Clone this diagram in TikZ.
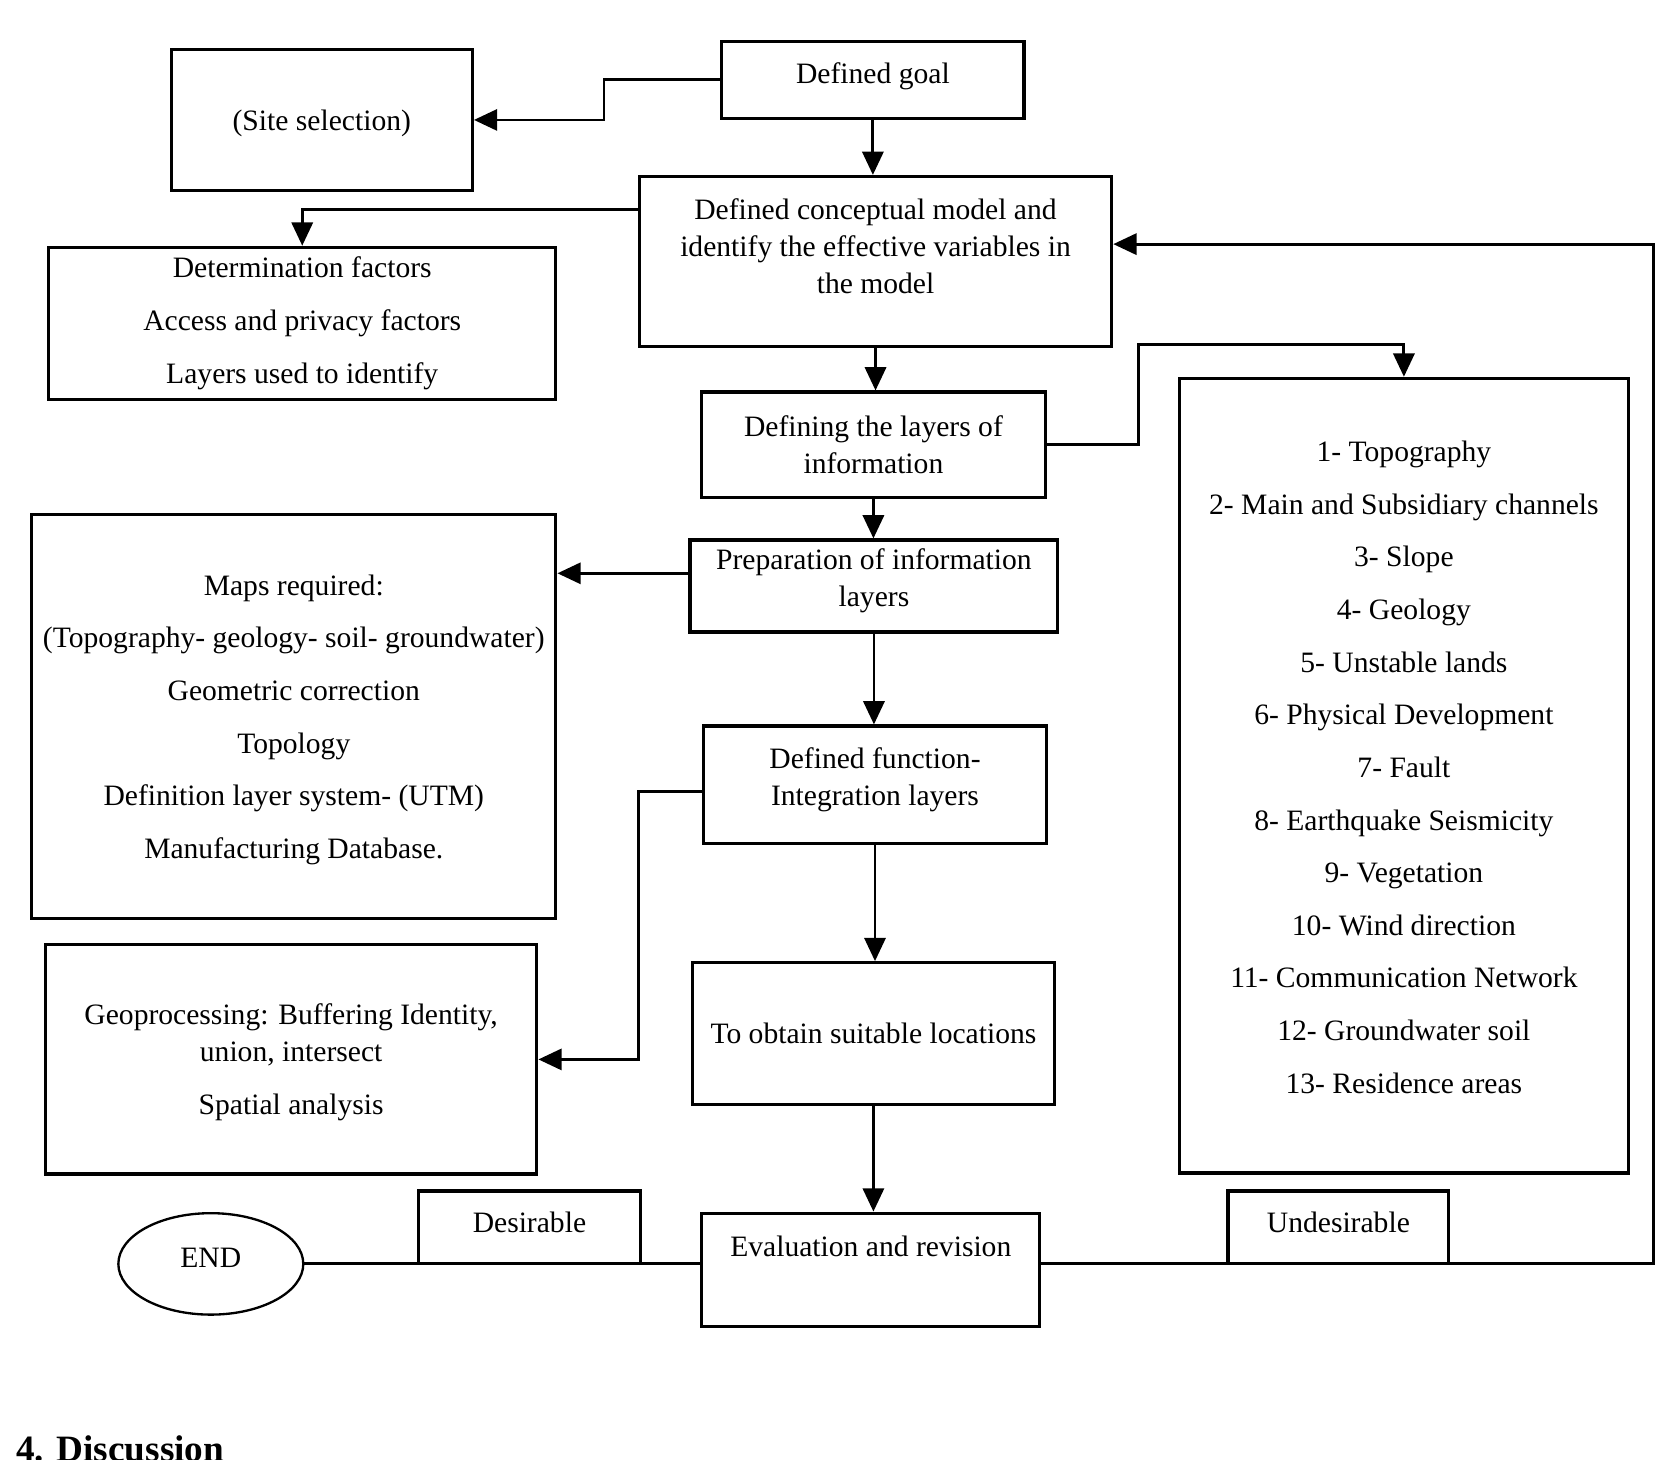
\documentclass[tikz,border=0pt]{standalone}
\usepackage{fontspec}
\setmainfont{Liberation Serif}
\usetikzlibrary{arrows.meta, shapes.geometric}

\begin{document}
\begin{tikzpicture}[> = {Triangle[length=11pt, width=10pt]}, % arrow head style
                x = 0.5pt, y = -0.5pt, % one unit is one pixel, y goes down
                line width = 1.35pt % line style
            ]

            \tikzstyle{every node}=[draw = black, rectangle, inner sep = 0pt,
            line width = 1.5pt, align = center,
            font = \fontsize{14}{17.5}\selectfont]
            \tikzstyle{listbox}=[font = \fontsize{14}{24.9}\selectfont]

            \useasboundingbox (0,0) rectangle (1568,1381);

            % middle column
            \node (1) at (826,75.5) [minimum width=143pt, minimum height=36.5pt,
            text depth=6pt] {Defined goal};
            \node (3) at (828.5,247.5) [minimum width=223.5pt, minimum height=80.5pt,
            text depth=14.5pt] {Defined conceptual model and\\ identify the
            effective variables in\\ the model};
            \node (5) at (826.5,421) [minimum width=162.5pt, minimum height=50pt]
            {Defining the layers of\\ information};
            \node (7) at (827,554.5) [minimum width=174pt, minimum height=43.5pt,
            text depth=8pt] {Preparation of information\\ layers};
            \node (9) at (828,742.5) [minimum width=162pt, minimum height=55.5pt,
            text depth=8pt] {Defined function-\\ Integration layers};
            \node (11) at (826.5,978) [minimum width=171.5pt, minimum height=67pt]
            {To obtain suitable locations};
            \node (12) at (824,1201.5) [minimum width=160pt, minimum height=53.5pt,
            text depth=22.5pt] {Evaluation and revision};

            % left column
            \node (2) at (304.5,113.5) [minimum width=142.5pt, minimum height=66.5pt,
            text depth=-4pt] {(Site selection)};
            \node (4) at (286,306) [listbox, minimum width=240pt, minimum height=72pt]
            {Determination factors\\ Access and privacy factors\\ Layers used to
            identify};
            \node (8) at (278,678) [listbox, minimum width=248pt, minimum height=191pt,
            text depth=-2pt] {Maps required:\\ (Topography- geology- soil-
            groundwater)\\ Geometric correction\\ Topology\\ Definition layer system-
            (UTM)\\ Manufacturing Database.};
            \node (10) at (275.5,1002.5) [minimum width=232.5pt, minimum height=108.5pt,
            text depth=-4pt] {Geoprocessing: Buffering Identity,\\ union,
            intersect\\[7.5pt] Spatial analysis};

            % right column
            \node (6) at (1328.5,734) [listbox, minimum width=212.5pt, minimum height=376pt,
            text depth=8pt] {1- Topography\\ 2- Main and Subsidiary channels\\ 3-
            Slope\\ 4- Geology\\ 5- Unstable lands\\ 6- Physical Development\\ 7-
            Fault\\ 8- Earthquake Seismicity\\ 9- Vegetation\\ 10- Wind direction\\
            11- Communication Network\\ 12- Groundwater soil\\ 13- Residence areas};

            % bottom row
            \node (13) at (501,1161.5) [minimum width=105pt, minimum height=34.5pt,
            text depth=4.5pt] {Desirable};
            \node (14) at (1266.5,1161.5) [minimum width=104.5pt, minimum height=34.5pt,
            text depth=4.5pt] {Undesirable};
            \node (15) at (199.5,1196) [ellipse, line width=1.1pt, minimum width=87.5pt,
            minimum height=48pt, text depth=6pt] {END};

            \node (16) at (14,1383) [draw=none, anchor=base west,
            font=\bfseries\fontsize{17.6}{20}\selectfont] {4. Discussion};

            % bend points
            \coordinate (a) at ([yshift=24.75pt]3.west);
            \coordinate (b) at (1077,326);
            \coordinate (c) at ([yshift=6pt]7.west);
            \coordinate (d) at ([yshift=-3.25pt]9.west);
            \coordinate (e) at ([yshift=2.75pt]12.west);
            \coordinate (f) at ([yshift=2.75pt]12.east);
            \coordinate (g) at ([yshift=8.25pt]3.east);

            \path[->] (1) edge (1 |- 3.north); \path[->] (3) edge (3.south |- 5.north);
            \path[->] (5) edge (5.south |- 7.north); \path[->] (7) edge (7.south |-
            9.north); \path[->] (9) edge (9.south |- 11.north); \path[->] (11) edge
            (11.south |- 12.north);

            \draw[->] (1.west) -- ++(-110,0) |- (2.east);
            \draw[->] (a) -| (4.north);
            \draw[->] (5.east) -| (b) -| (6.north);
            \draw[->] (c) -- (c -| 8.east);
            \draw[->] (d) -- ++(-60,0) |- (10.east);
            \draw (e) -- (e -| 15.east);
            \draw[->] (f) -- ++(579,0) |- (g);
\end{tikzpicture}
\end{document}
